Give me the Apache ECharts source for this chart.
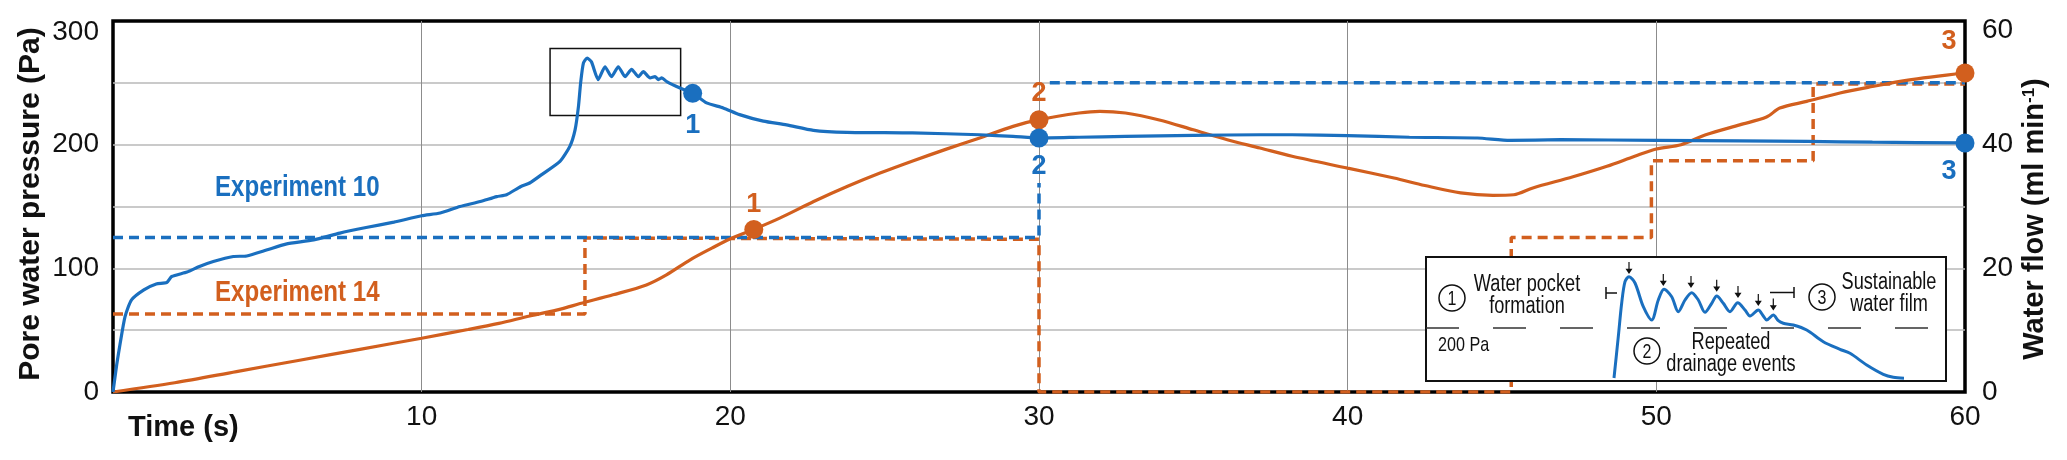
<!DOCTYPE html>
<html>
<head>
<meta charset="utf-8">
<title>Pore water pressure and water flow</title>
<script src="https://cdn.jsdelivr.net/npm/echarts@6/dist/echarts.min.js"></script>
<style>
html, body { margin: 0; padding: 0; background: #fff; }
#main { width: 2067px; height: 460px; }
</style>
</head>
<body>
<div id="main"></div>
<script>
var BLUE = '#1a6fbf';
var ORANGE = '#d25f1e';
var SANS = "'Liberation Sans', Arial, sans-serif";

// Experiment 10 - pore water pressure (Pa)
var exp10Time = [0, 0.12, 0.23, 0.39, 0.6, 1.0, 1.4, 1.74, 1.9, 2.4, 2.8, 3.25, 3.9, 4.33, 5.0, 5.6, 6.5, 7.35, 8.2, 9.1,
    10.0, 10.6, 11.24, 11.9, 12.43, 12.75, 13.2, 13.5, 13.9, 14.48, 14.8, 14.97, 15.08, 15.15, 15.24, 15.36, 15.5, 15.72,
    15.94, 16.15, 16.37, 16.59, 16.8, 17.02, 17.18, 17.4, 17.56, 17.67, 17.78, 17.94, 18.37, 18.8, 19.23, 19.77, 20.3,
    21.07, 21.82, 22.69, 23.77, 25.9, 28.08, 29.16, 30.0, 31.3, 32.8, 35.0, 37.16, 38.2, 40.0, 42.0, 44.2, 45.25, 46.9,
    50.0, 52.7, 54.9, 57.0, 60];
var exp10Pressure = [0, 22, 39, 61, 74.5, 82.6, 87.4, 88.5, 93.4, 97, 101.5, 105.5, 109.6, 110, 115, 119.6, 123, 128.5, 133, 137.4,
    142.5, 144.7, 150, 154, 158, 159.5, 166, 169, 176, 186.5, 198.6, 212, 231, 250, 266, 270, 267, 252.6,
    263, 255, 263, 255, 261, 255, 259, 254, 255, 252.6, 254, 251, 245.8, 241.5, 233.8, 229.7, 224.3,
    219, 216, 211.6, 210, 209.5, 208, 206.7, 205.4, 206, 206.7, 207.5, 208, 208, 207.3, 206, 205.4, 203.5, 204,
    203.5, 203, 202.6, 202, 201.4];

// Experiment 14 - pore water pressure (Pa)
var exp14Time = [0, 2, 4, 6, 8, 10, 11.5, 12.5, 13.5, 14.5, 15.13, 16.2, 17.28, 17.93, 18.7, 19.4, 20.0, 20.76,
    21.6, 22.7, 23.8, 24.85, 25.93, 27.0, 28.08, 29.16, 30.0, 31.3, 31.97, 32.8, 33.9, 35.0, 36.1, 37.16, 38.2, 40.0,
    41.5, 42.5, 43.66, 44.7, 45.38, 46.0, 47.3, 48.4, 49.3, 50.0, 50.8, 51.6, 52.7, 53.57, 54.0, 54.87, 55.95, 57.0,
    58.1, 60];
var exp14Pressure = [0, 7.5, 16.5, 25.5, 34.5, 43.5, 50.5, 55.5, 61.5, 67, 71.5, 78.6, 86.6, 94.7, 106.9, 116.3, 123.9, 131.5,
    140.6, 154, 166.3, 177, 187, 196.4, 205.4, 214.8, 220.2, 225.6, 227, 225.6, 220, 212, 204, 197.3, 190.6, 181,
    173, 167, 161, 159, 159.5, 165, 174, 182.5, 190.6, 196.5, 200, 208, 216, 222.3, 229.6, 235, 241.8, 247,
    252, 258];

// water flow (ml min-1), dashed step lines
var exp10FlowTimeA = [0, 30, 30];
var exp10FlowA = [25, 25, 33.8];
var exp10FlowTimeB = [30.35, 60];
var exp10FlowB = [50, 50];
var exp14FlowTime = [0, 15.29, 15.29, 30, 30, 45.3, 45.3, 49.84, 49.84, 55.08, 55.08, 60];
var exp14Flow = [12.6, 12.6, 24.9, 24.7, 0, 0, 25, 25, 37.4, 37.4, 49.8, 49.8];

// numbered stages
var stageNames = ['1', '2', '3'];
var exp10StageTime = [18.78, 30, 60];
var exp10StagePressure = [241.5, 205.4, 201.4];
var exp14StageTime = [20.76, 30, 60];
var exp14StagePressure = [131.5, 220.2, 258];

// box round the first peak of experiment 10
var peakBoxTime = [14.16, 18.39];
var peakBoxPressure = [223.5, 277.7];

// inset sketch, in inset units
var insetX = [188, 192.3, 195.7, 199, 203, 209, 217.3, 225.7, 232.3, 238, 245.7, 252.3, 259, 265.7, 272.3, 279, 285.7,
    290.7, 297.3, 304, 311.7, 319, 324, 332.3, 337.3, 340.7, 347.3, 352.3, 357.3, 367.3, 380.7, 397.3, 414, 424,
    440.7, 457.3, 467.3, 478];
var insetY = [3, 44.3, 78, 99.3, 104.3, 98, 74.3, 61, 81, 91.7, 84.3, 69.3, 81, 88.3, 81, 68.7, 77.7,
    85, 77.7, 69.3, 78.3, 71, 65, 71, 65, 61, 66, 60.3, 57.7, 56, 51, 39.3, 31.7, 27.7,
    16, 6.7, 3.7, 2.7];
var insetArrowX = [203, 237.3, 265, 290.7, 312, 332.3, 347.3];
var insetArrowY = [113, 101, 99, 95.3, 89, 81, 76.5];
var insetLevelX = [0, 520];
var insetLevelY = [53, 53];

function zip(a, b) {
    return a.map(function (v, i) { return [v, b[i]]; });
}

var exp10Offsets = [[0, 32], [0, 29], [-16, 29]];
var exp14Offsets = [[0, -25], [0, -26], [-16, -31]];

function stagePoints(t, p, offsets, color) {
    return t.map(function (v, i) {
        return {
            value: [v, p[i]],
            label: {
                show: true, position: 'inside', offset: offsets[i], formatter: stageNames[i],
                color: color, fontSize: 27, fontWeight: 'bold', fontFamily: SANS
            }
        };
    });
}

// narrow text, faked by squeezing Liberation Sans
function narrowText(x, y, text, size, align, scale, extra) {
    var el = {
        type: 'text', z: 31, x: x, y: y, scaleX: scale,
        style: { text: text, font: size + 'px ' + SANS, fill: '#111', align: align, verticalAlign: 'middle' }
    };
    if (extra) Object.assign(el.style, extra);
    return el;
}

var chartDom = document.getElementById('main');
var myChart = echarts.init(chartDom, null, { renderer: 'canvas' });

var tickLabel = { fontSize: 28, fontFamily: SANS, color: '#111' };

var option = {
    backgroundColor: '#fff',
    animation: false,
    grid: [
        { left: 113, top: 21, width: 1852, height: 371, show: true, borderColor: '#000', borderWidth: 3.5, backgroundColor: 'transparent' },
        { left: 1426, top: 257, width: 520, height: 124, show: false }
    ],
    xAxis: [
        {
            type: 'value', gridIndex: 0, min: 0, max: 60, interval: 10,
            axisLine: { show: false }, axisTick: { show: false },
            axisLabel: Object.assign({ margin: 11, formatter: function (v) { return v === 0 ? '' : String(v); } }, tickLabel),
            splitLine: { show: true, showMinLine: false, showMaxLine: false, lineStyle: { color: '#8c8c8c', width: 1 } }
        },
        { type: 'value', gridIndex: 1, min: 0, max: 520, show: false }
    ],
    yAxis: [
        {
            type: 'value', gridIndex: 0, min: 0, max: 300, interval: 50,
            axisLine: { show: false }, axisTick: { show: false },
            axisLabel: Object.assign({
                margin: 14,
                formatter: function (v) {
                    if (v % 100 !== 0) return '';
                    return v === 300 ? '{top|300}' : String(v);
                },
                rich: { top: { padding: [22, 0, 0, 0], fontSize: 28, fontFamily: SANS, color: '#111' } }
            }, tickLabel),
            splitLine: { show: true, showMinLine: false, showMaxLine: false, lineStyle: { color: '#b8b8b8', width: 1.5 } }
        },
        {
            type: 'value', gridIndex: 0, position: 'right', min: 0, max: 60, interval: 20,
            axisLine: { show: false }, axisTick: { show: false },
            axisLabel: Object.assign({
                margin: 17,
                formatter: function (v) { return v === 60 ? '{top|60}' : String(v); },
                rich: { top: { padding: [18, 0, 0, 0], fontSize: 28, fontFamily: SANS, color: '#111' } }
            }, tickLabel),
            splitLine: { show: false }
        },
        { type: 'value', gridIndex: 1, min: 0, max: 124, show: false }
    ],
    graphic: [
        // axis titles
        { type: 'text', x: 31, y: 204, rotation: Math.PI / 2, style: { text: 'Pore water pressure (Pa)', font: 'bold 30px ' + SANS, fill: '#111', align: 'center', verticalAlign: 'middle' } },
        { type: 'text', x: 2035, y: 219, rotation: Math.PI / 2, style: {
            text: 'Water flow (ml min{sup|-1})', font: 'bold 29px ' + SANS, fill: '#111', align: 'center', verticalAlign: 'middle',
            rich: { sup: { fontSize: 17, fontWeight: 'bold', fontFamily: SANS, verticalAlign: 'top', fill: '#111' } }
        } },
        { type: 'text', x: 128, y: 428, style: { text: 'Time (s)', font: 'bold 29px ' + SANS, fill: '#111', align: 'left', verticalAlign: 'middle' } },
        // series labels
        narrowText(215, 188, 'Experiment 10', 'bold 29', 'left', 0.83, { fill: BLUE }),
        narrowText(215, 293, 'Experiment 14', 'bold 29', 'left', 0.83, { fill: ORANGE }),
        // inset frame
        { type: 'rect', z: 10, shape: { x: 1426, y: 257, width: 520, height: 124 }, style: { fill: '#fff', stroke: '#111', lineWidth: 2 } },
        { type: 'circle', z: 30, shape: { cx: 1452, cy: 298, r: 13 }, style: { fill: '#fff', stroke: '#111', lineWidth: 1.5 } },
        { type: 'circle', z: 30, shape: { cx: 1647, cy: 351, r: 13 }, style: { fill: '#fff', stroke: '#111', lineWidth: 1.5 } },
        { type: 'circle', z: 30, shape: { cx: 1822, cy: 297, r: 13 }, style: { fill: '#fff', stroke: '#111', lineWidth: 1.5 } },
        narrowText(1452, 299, '1', 20, 'center', 0.8),
        narrowText(1647, 352, '2', 20, 'center', 0.8),
        narrowText(1822, 298, '3', 20, 'center', 0.8),
        narrowText(1527, 285, 'Water pocket', 23, 'center', 0.79),
        narrowText(1527, 307, 'formation', 23, 'center', 0.79),
        narrowText(1438, 345, '200 Pa', 21, 'left', 0.77),
        narrowText(1731, 343, 'Repeated', 23, 'center', 0.79),
        narrowText(1731, 365, 'drainage events', 23, 'center', 0.79),
        narrowText(1889, 283, 'Sustainable', 23, 'center', 0.79),
        narrowText(1889, 305, 'water film', 23, 'center', 0.79),
        // range brackets
        { type: 'polyline', z: 31, shape: { points: [[1606, 287], [1606, 299]] }, style: { stroke: '#111', lineWidth: 1.5 } },
        { type: 'polyline', z: 31, shape: { points: [[1606, 293], [1617, 293]] }, style: { stroke: '#111', lineWidth: 1.5 } },
        { type: 'polyline', z: 31, shape: { points: [[1770, 292.5], [1794, 292.5]] }, style: { stroke: '#111', lineWidth: 1.5 } },
        { type: 'polyline', z: 31, shape: { points: [[1794, 287], [1794, 298]] }, style: { stroke: '#111', lineWidth: 1.5 } }
    ],
    series: [
        {
            name: 'Exp 14 flow', type: 'line', xAxisIndex: 0, yAxisIndex: 1, symbol: 'none', z: 2,
            data: zip(exp14FlowTime, exp14Flow),
            lineStyle: { color: ORANGE, width: 3.5, type: [10, 6] }
        },
        {
            name: 'Exp 10 flow A', type: 'line', xAxisIndex: 0, yAxisIndex: 1, symbol: 'none', z: 2,
            data: zip(exp10FlowTimeA, exp10FlowA),
            lineStyle: { color: BLUE, width: 3.5, type: [10, 6] }
        },
        {
            name: 'Exp 10 flow B', type: 'line', xAxisIndex: 0, yAxisIndex: 1, symbol: 'none', z: 2,
            data: zip(exp10FlowTimeB, exp10FlowB),
            lineStyle: { color: BLUE, width: 3.5, type: [10, 6] }
        },
        {
            name: 'Experiment 14', type: 'line', xAxisIndex: 0, yAxisIndex: 0, symbol: 'none', smooth: 0.3, z: 3,
            data: zip(exp14Time, exp14Pressure),
            lineStyle: { color: ORANGE, width: 3.2 }
        },
        {
            name: 'Experiment 10', type: 'line', xAxisIndex: 0, yAxisIndex: 0, symbol: 'none', smooth: 0.2, z: 4,
            data: zip(exp10Time, exp10Pressure),
            lineStyle: { color: BLUE, width: 3.2 },
            markArea: {
                silent: true,
                itemStyle: { color: 'rgba(0,0,0,0)', borderColor: '#111', borderWidth: 1.5 },
                data: [[{ coord: [peakBoxTime[0], peakBoxPressure[1]] }, { coord: [peakBoxTime[1], peakBoxPressure[0]] }]]
            }
        },
        {
            name: 'Exp 14 stages', type: 'scatter', xAxisIndex: 0, yAxisIndex: 0, symbolSize: 19, clip: false, z: 6,
            itemStyle: { color: ORANGE, opacity: 1 },
            data: stagePoints(exp14StageTime, exp14StagePressure, exp14Offsets, ORANGE)
        },
        {
            name: 'Exp 10 stages', type: 'scatter', xAxisIndex: 0, yAxisIndex: 0, symbolSize: 19, clip: false, z: 6,
            itemStyle: { color: BLUE, opacity: 1 },
            data: stagePoints(exp10StageTime, exp10StagePressure, exp10Offsets, BLUE)
        },
        {
            name: 'Inset level', type: 'line', xAxisIndex: 1, yAxisIndex: 2, symbol: 'none', z: 20,
            data: zip(insetLevelX, insetLevelY),
            lineStyle: { color: '#333', width: 1.5, type: [33, 34] }
        },
        {
            name: 'Inset sketch', type: 'line', xAxisIndex: 1, yAxisIndex: 2, symbol: 'none', smooth: 0.3, z: 21,
            data: zip(insetX, insetY),
            lineStyle: { color: BLUE, width: 3 }
        },
        {
            name: 'Inset arrows', type: 'scatter', xAxisIndex: 1, yAxisIndex: 2, z: 22,
            symbol: 'path://M3.4,0 H4.6 V10 H3.4 Z M0.5,9 H7.5 L4,16 Z', symbolSize: [7, 12],
            itemStyle: { color: '#111', opacity: 1 },
            data: zip(insetArrowX, insetArrowY)
        }
    ]
};

option && myChart.setOption(option);
</script>
</body>
</html>
